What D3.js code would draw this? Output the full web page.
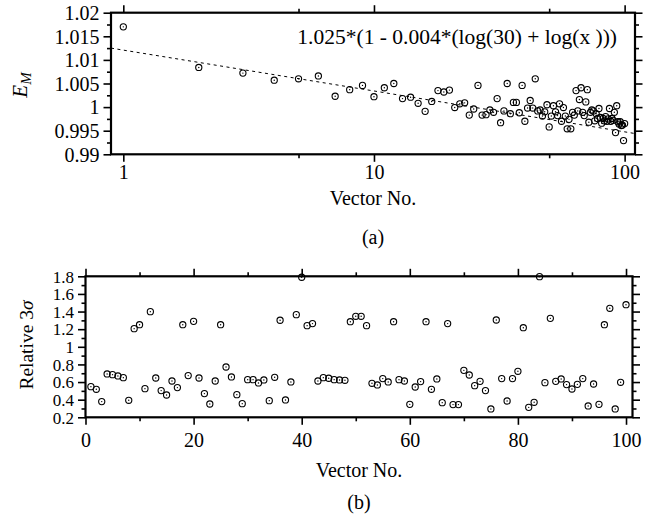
<!DOCTYPE html>
<html>
<head>
<meta charset="utf-8">
<script src="https://cdn.jsdelivr.net/npm/d3@7"></script>
<style>
body { margin: 0; background: #fff; }
svg, svg text { font-family: "Liberation Serif", "Times New Roman", serif; }
.tick text { fill: #000; }
.tick line { stroke: #000; stroke-width: 1.6; }
</style>
</head>
<body>
<svg id="chart" width="657" height="516"></svg>
<script>
// (a) E_M per vector, vectors 1..100 on a log axis
const em_vectors = d3.range(1, 101);
const em_values = [
    1.0170, 1.0084, 1.0072, 1.0057, 1.0060, 1.0066, 1.0023, 1.0037, 1.0046, 1.0022,
    1.0041, 1.0050, 1.0018, 1.0021, 1.0008, 0.9991, 1.0012, 1.0035, 1.0032, 1.0036,
    0.9999, 1.0007, 1.0009, 0.9983, 0.9996, 1.0046, 0.9983, 0.9984, 0.9994, 0.9989,
    1.0018, 0.9967, 0.9992, 1.0050, 0.9986, 1.0010, 1.0010, 0.9988, 1.0046, 0.9970,
    0.9998, 1.0014, 0.9998, 1.0060, 0.9992, 0.9994, 0.9981, 0.9990, 1.0005, 0.9958,
    0.9981, 1.0003, 0.9990, 0.9982, 1.0007, 0.9970, 0.9999, 0.9981, 0.9954, 0.9974,
    0.9954, 0.9989, 0.9983, 1.0035, 0.9992, 1.0016, 1.0041, 0.9989, 0.9982, 1.0011,
    1.0037, 0.9968, 0.9989, 0.9994, 0.9992, 0.9971, 0.9986, 0.9976, 0.9997, 0.9978,
    0.9966, 0.9976, 0.9971, 0.9980, 0.9970, 0.9975, 0.9997, 0.9970, 0.9976, 0.9972,
    0.9989, 0.9946, 1.0003, 0.9969, 0.9964, 0.9969, 0.9961, 0.9962, 0.9929, 0.9965
];
// dashed fit line, straight on the log axis (end points)
const fit_x = [0.893, 110];
const fit_y = [1.0125, 0.9944];
const fit_label = "1.025*(1 - 0.004*(log(30) + log(x )))";

const em_ticks = [0.99, 0.995, 1, 1.005, 1.01, 1.015, 1.02];
const em_minor = [0.9925, 0.9975, 1.0025, 1.0075, 1.0125, 1.0175];
const vec_log_ticks = [1, 10, 100];
const vec_log_minor = [5, 50];

// (b) relative 3 sigma per vector
const sigma_vectors = d3.range(1, 101);
const sigma_values = [
    0.548, 0.518, 0.378, 0.692, 0.684, 0.669, 0.650, 0.393, 1.206, 1.251,
    0.525, 1.399, 0.646, 0.503, 0.453, 0.612, 0.537, 1.251, 0.673, 1.289,
    0.646, 0.469, 0.351, 0.612, 1.251, 0.771, 0.658, 0.457, 0.355, 0.627,
    0.627, 0.590, 0.624, 0.389, 0.654, 1.301, 0.397, 0.601, 1.365, 1.789,
    1.240, 1.263, 0.612, 0.650, 0.643, 0.627, 0.624, 0.620, 1.285, 1.346,
    1.346, 1.240, 0.586, 0.567, 0.639, 0.601, 1.285, 0.627, 0.612, 0.347,
    0.544, 0.605, 1.285, 0.518, 0.635, 0.366, 1.263, 0.344, 0.344, 0.733,
    0.680, 0.559, 0.608, 0.503, 0.295, 1.304, 0.639, 0.385, 0.639, 0.722,
    1.217, 0.313, 0.370, 1.796, 0.593, 1.323, 0.608, 0.635, 0.571, 0.521,
    0.574, 0.639, 0.329, 0.578, 0.347, 1.251, 1.437, 0.295, 0.597, 1.478
];
const sigma_ticks = [0.2, 0.4, 0.6, 0.8, 1, 1.2, 1.4, 1.6, 1.8];
const sigma_minor = [0.3, 0.5, 0.7, 0.9, 1.1, 1.3, 1.5, 1.7];
const vec_ticks = [0, 20, 40, 60, 80, 100];
const vec_minor = [10, 30, 50, 70, 90];

const svg = d3.select("#chart");
const serif = "Liberation Serif, Times New Roman, serif";

function draw_panel(x, y, opts) {
    let g = svg.append("g");
    let [x0, x1] = x.range();
    let [y0, y1] = y.range();   // y0 = bottom, y1 = top

    // all ticks point outwards, labels only left and bottom
    let sides = [
        [d3.axisBottom, x, y0, opts.xt, opts.xm, true, opts.xfs],
        [d3.axisTop, x, y1, opts.xt, opts.xm, false, 0],
        [d3.axisLeft, y, x0, opts.yt, opts.ym, true, opts.yfs],
        [d3.axisRight, y, x1, opts.yt, opts.ym, false, 0]
    ];
    sides.forEach(([mk, sc, pos, major, minor, labels, fs]) => {
        let horiz = (mk === d3.axisBottom || mk === d3.axisTop);
        let tr = horiz ? "translate(0," + pos + ")" : "translate(" + pos + ",0)";
        let ax = mk(sc).tickValues(major).tickSize(7.5).tickSizeOuter(0)
            .tickPadding(horiz ? opts.xpad : 4);
        ax.tickFormat(labels ? d3.format("~g") : "");
        let a = g.append("g").attr("transform", tr).call(ax);
        a.attr("font-family", serif).attr("font-size", fs || null);
        a.select(".domain").remove();
        if (horiz && labels)
            a.selectAll("text").attr("dy", "0.9em");
        if (!horiz && labels)
            a.selectAll("text").attr("dy", "0.34em");

        let m = g.append("g").attr("transform", tr)
            .call(mk(sc).tickValues(minor).tickSize(4).tickSizeOuter(0).tickFormat(""));
        m.select(".domain").remove();
    });

    g.append("rect")
        .attr("x", x0).attr("y", y1)
        .attr("width", x1 - x0).attr("height", y0 - y1)
        .attr("fill", "none").attr("stroke", "#000").attr("stroke-width", 2.2);
    return g;
}

function draw_points(g, x, y, xs, ys) {
    let pts = g.append("g").selectAll("g").data(xs.map((v, i) => [v, ys[i]]))
        .enter().append("g")
        .attr("transform", d => "translate(" + x(d[0]) + "," + y(d[1]) + ")");
    pts.append("circle").attr("r", 3.1)
        .attr("fill", "none").attr("stroke", "#000").attr("stroke-width", 1.1);
    pts.append("circle").attr("r", 0.7).attr("fill", "#000");
}

// ---- panel (a)
let xa = d3.scaleLog().domain([0.893, 110]).range([111, 635]);
let ya = d3.scaleLinear().domain([0.99, 1.02]).range([154.3, 12.7]);
let ga = draw_panel(xa, ya, {xt: vec_log_ticks, xm: vec_log_minor, yt: em_ticks, ym: em_minor,
                             xfs: 20, yfs: 20, xpad: -1});

ga.append("path")
    .datum(fit_x.map((v, i) => [v, fit_y[i]]))
    .attr("d", d3.line().x(d => xa(d[0])).y(d => ya(d[1])))
    .attr("fill", "none").attr("stroke", "#000").attr("stroke-width", 1)
    .attr("stroke-dasharray", "3,3.5");

draw_points(ga, xa, ya, em_vectors, em_values);

ga.append("text").attr("x", 617).attr("y", 44).attr("text-anchor", "end")
    .attr("font-size", 21.5).text(fit_label);

ga.append("text").attr("transform", "translate(27,85) rotate(-90)")
    .attr("text-anchor", "middle").attr("font-size", 21).attr("font-style", "italic")
    .call(t => {
        t.append("tspan").text("E");
        t.append("tspan").attr("font-size", 15).attr("dy", 4).text("M");
    });
ga.append("text").attr("x", 373).attr("y", 205).attr("text-anchor", "middle")
    .attr("font-size", 20).text("Vector No.");
ga.append("text").attr("x", 373).attr("y", 244).attr("text-anchor", "middle")
    .attr("font-size", 20).text("(a)");

// ---- panel (b)
let xb = d3.scaleLinear().domain([0, 101.2]).range([85.5, 632.5]);
let yb = d3.scaleLinear().domain([0.2, 1.8]).range([417.3, 276.3]);
let gb = draw_panel(xb, yb, {xt: vec_ticks, xm: vec_minor, yt: sigma_ticks, ym: sigma_minor,
                             xfs: 20, yfs: 17, xpad: 4});

draw_points(gb, xb, yb, sigma_vectors, sigma_values);

gb.append("text").attr("transform", "translate(33,345) rotate(-90)")
    .attr("text-anchor", "middle").attr("font-size", 19.5)
    .call(t => {
        t.append("tspan").text("Relative 3");
        t.append("tspan").attr("font-style", "italic").text("σ");
    });
gb.append("text").attr("x", 359).attr("y", 477).attr("text-anchor", "middle")
    .attr("font-size", 20).text("Vector No.");
gb.append("text").attr("x", 359).attr("y", 509).attr("text-anchor", "middle")
    .attr("font-size", 20).text("(b)");
</script>
</body>
</html>
